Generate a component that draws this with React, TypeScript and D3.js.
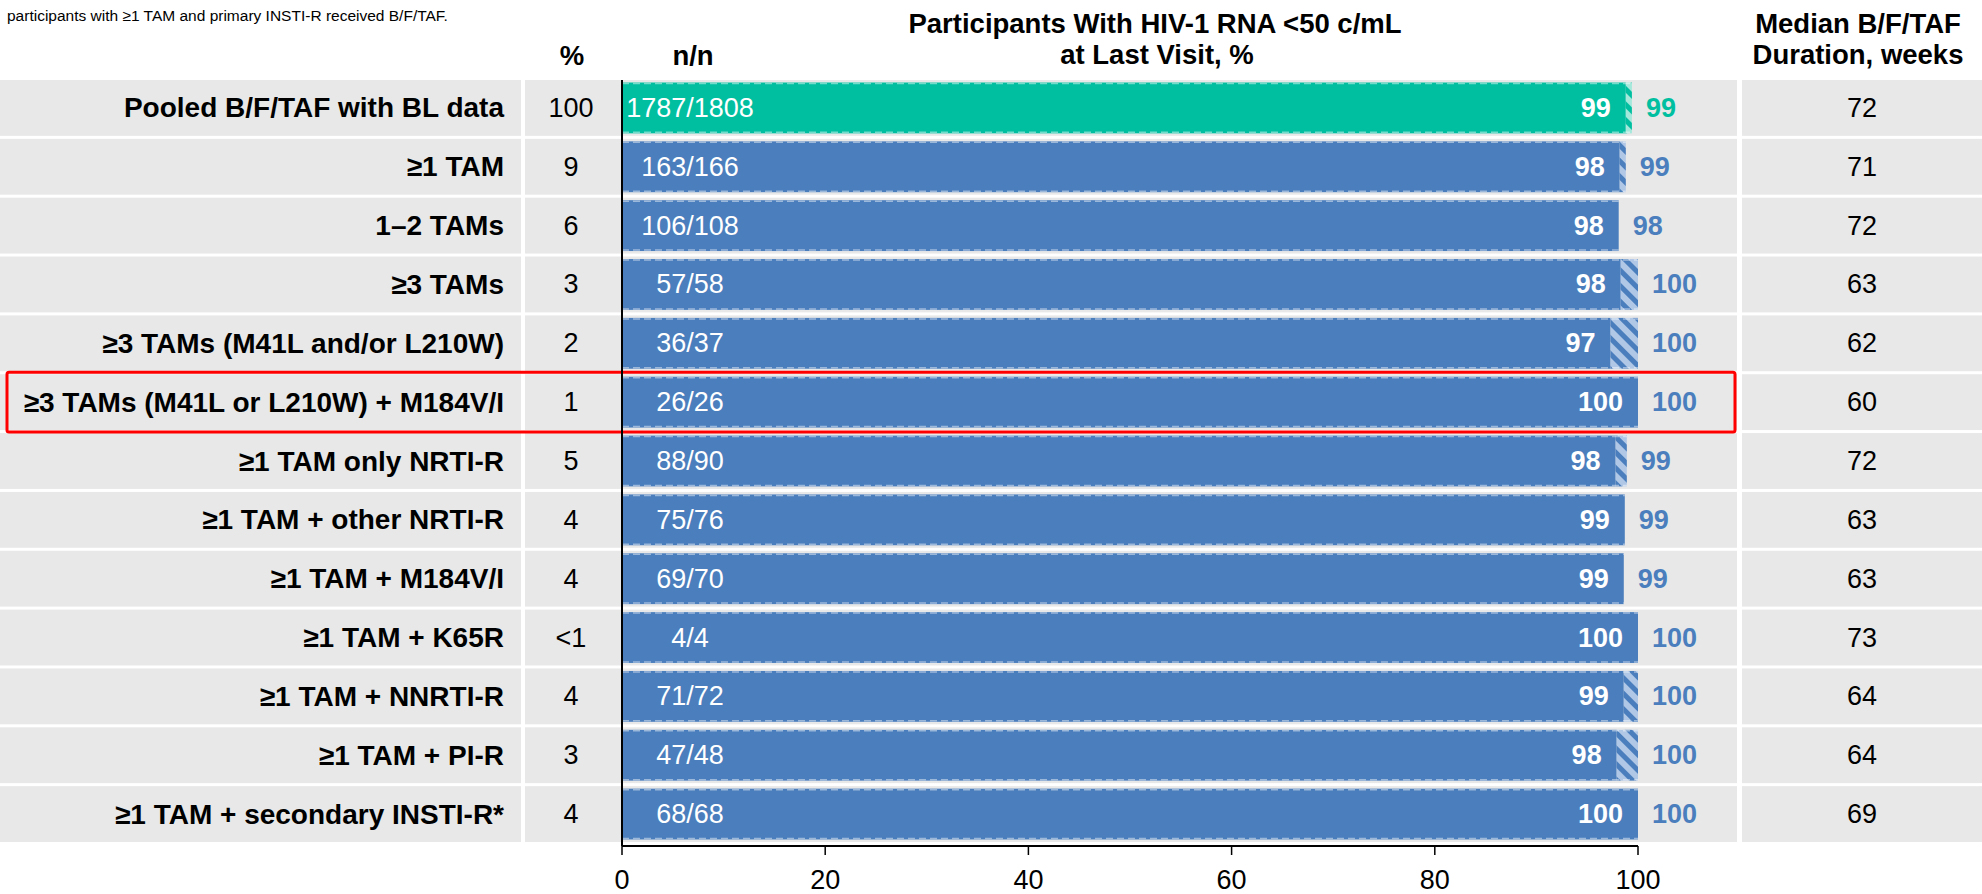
import React from "react";
import * as d3 from "d3";

const categories = [
  "Pooled B/F/TAF with BL data",
  "≥1 TAM",
  "1–2 TAMs",
  "≥3 TAMs",
  "≥3 TAMs (M41L and/or L210W)",
  "≥3 TAMs (M41L or L210W) + M184V/I",
  "≥1 TAM only NRTI-R",
  "≥1 TAM + other NRTI-R",
  "≥1 TAM + M184V/I",
  "≥1 TAM + K65R",
  "≥1 TAM + NNRTI-R",
  "≥1 TAM + PI-R",
  "≥1 TAM + secondary INSTI-R*",
];
const pctOfTotal = ["100", "9", "6", "3", "2", "1", "5", "4", "4", "<1", "4", "3", "4"];
const nOverN = ["1787/1808", "163/166", "106/108", "57/58", "36/37", "26/26", "88/90", "75/76", "69/70", "4/4", "71/72", "47/48", "68/68"];
const solidPct = [98.8, 98.2, 98.1, 98.3, 97.3, 100, 97.8, 98.7, 98.6, 100, 98.6, 97.9, 100];
const hatchPct = [99.4, 98.8, 98.1, 100, 100, 100, 98.9, 98.7, 98.6, 100, 100, 100, 100];
const insideLabels = ["99", "98", "98", "98", "97", "100", "98", "99", "99", "100", "99", "98", "100"];
const outsideLabels = ["99", "99", "98", "100", "100", "100", "99", "99", "99", "100", "100", "100", "100"];
const durationWeeks = ["72", "71", "72", "63", "62", "60", "72", "63", "63", "73", "64", "64", "69"];
const xTicks = [0, 20, 40, 60, 80, 100];
const highlightIndex = 5;

const W = 1982;
const H = 894;
const FONT = "'Liberation Sans', Arial, sans-serif";
const GREEN = "#00BFA0";
const GREEN_LIGHT = "#A3E8DA";
const BLUE = "#4A7EBD";
const BLUE_LIGHT = "#B0C7E6";
const GREY = "#E8E8E8";

export default function App() {
  const x = d3.scaleLinear().domain([0, 100]).range([622, 1638]);
  const y = d3
    .scaleBand<number>()
    .domain(categories.map((_, i) => i))
    .range([80, 845])
    .paddingInner(0);
  const bw = y.bandwidth();
  const rowH = bw - 3;
  const axisY = 846;

  return (
    <svg width={W} height={H} style={{ display: "block", position: "absolute", left: 0, top: 0 }} fontFamily={FONT}>
      <defs>
        <pattern id="hatchBlue" patternUnits="userSpaceOnUse" width="11" height="11" patternTransform="rotate(-45)">
          <rect width="11" height="11" fill={BLUE} />
          <rect width="6" height="11" fill={BLUE_LIGHT} />
        </pattern>
        <pattern id="hatchGreen" patternUnits="userSpaceOnUse" width="11" height="11" patternTransform="rotate(-45)">
          <rect width="11" height="11" fill={GREEN} />
          <rect width="6" height="11" fill={GREEN_LIGHT} />
        </pattern>
      </defs>
      <rect width={W} height={H} fill="#fff" />

      <text x={7} y={15} fontSize={15.5} dominantBaseline="central" fill="#000">
        participants with ≥1 TAM and primary INSTI-R received B/F/TAF.
      </text>

      {/* headers */}
      <g fontWeight="bold" fontSize={27.5} textAnchor="middle" fill="#000">
        <text x={572} y={55} dominantBaseline="central">%</text>
        <text x={693} y={55} dominantBaseline="central">n/n</text>
        <text x={1155} y={23.5} dominantBaseline="central">Participants With HIV-1 RNA &lt;50 c/mL</text>
        <text x={1157} y={54} dominantBaseline="central">at Last Visit, %</text>
        <text x={1858} y={23.5} dominantBaseline="central">Median B/F/TAF</text>
        <text x={1858} y={54} dominantBaseline="central">Duration, weeks</text>
      </g>

      {categories.map((c, i) => {
        const y0 = y(i)!;
        const cy = y0 + rowH / 2;
        const isGreen = i === 0;
        const barTop = y0 + 2.5;
        const barH = rowH - 5;
        const xs = x(solidPct[i]);
        const xh = x(hatchPct[i]);
        const x0 = x(0);
        return (
          <g key={c}>
            <rect x={0} y={y0} width={521} height={rowH} fill={GREY} />
            <rect x={525} y={y0} width={93} height={rowH} fill={GREY} />
            <rect x={618} y={y0} width={1119} height={rowH} fill={GREY} />
            <rect x={1742} y={y0} width={W - 1742} height={rowH} fill={GREY} />
            <text x={504} y={cy} fontSize={28} fontWeight="bold" textAnchor="end" dominantBaseline="central">
              {c}
            </text>
            <text x={571} y={cy} fontSize={27} textAnchor="middle" dominantBaseline="central">
              {pctOfTotal[i]}
            </text>
            <rect x={x0} y={barTop} width={xs - x0} height={barH} fill={isGreen ? GREEN : BLUE} />
            {xh > xs + 0.1 && (
              <rect x={xs} y={barTop} width={xh - xs} height={barH} fill={isGreen ? "url(#hatchGreen)" : "url(#hatchBlue)"} />
            )}
            <line x1={x0} x2={Math.max(xs, xh)} y1={barTop + 1} y2={barTop + 1} stroke="#fff" strokeOpacity={0.45} strokeWidth={1.5} strokeDasharray="7 4" />
            <line x1={x0} x2={Math.max(xs, xh)} y1={barTop + barH - 1} y2={barTop + barH - 1} stroke="#fff" strokeOpacity={0.45} strokeWidth={1.5} strokeDasharray="7 4" />
            <text x={690} y={cy} fontSize={27} fill="#fff" textAnchor="middle" dominantBaseline="central">
              {nOverN[i]}
            </text>
            <text x={xs - 15} y={cy} fontSize={27} fontWeight="bold" fill="#fff" textAnchor="end" dominantBaseline="central">
              {insideLabels[i]}
            </text>
            <text x={Math.max(xs, xh) + 14} y={cy} fontSize={27} fontWeight="bold" fill={isGreen ? GREEN : BLUE} textAnchor="start" dominantBaseline="central">
              {outsideLabels[i]}
            </text>
            <text x={1862} y={cy} fontSize={27} textAnchor="middle" dominantBaseline="central">
              {durationWeeks[i]}
            </text>
          </g>
        );
      })}

      {/* highlight box */}
      <rect
        x={7}
        y={y(highlightIndex)! - 2}
        width={1728}
        height={rowH + 4}
        fill="none"
        stroke="#FF0000"
        strokeWidth={3}
        rx={2}
      />

      {/* axis */}
      <line x1={x(0)} x2={x(0)} y1={80} y2={axisY} stroke="#000" strokeWidth={2} />
      <line x1={x(0)} x2={x(100)} y1={axisY} y2={axisY} stroke="#000" strokeWidth={2} />
      {xTicks.map((t) => (
        <g key={t}>
          <line x1={x(t)} x2={x(t)} y1={axisY} y2={axisY + 9} stroke="#000" strokeWidth={1.5} />
          <text x={x(t)} y={axisY + 34} fontSize={27} textAnchor="middle" dominantBaseline="central">
            {t}
          </text>
        </g>
      ))}
    </svg>
  );
}
